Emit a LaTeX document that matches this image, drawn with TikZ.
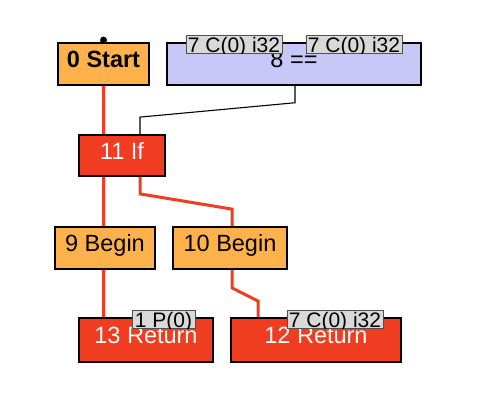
\documentclass[tikz,border=0pt]{standalone}
\usepackage{fontspec}
\setmainfont{Liberation Sans}
\definecolor{orangefill}{HTML}{FFB24C}
\definecolor{redfill}{HTML}{F03C20}
\definecolor{lavfill}{HTML}{C8C8F8}
\definecolor{labfill}{HTML}{D9D9D9}
\definecolor{labdraw}{HTML}{505050}
\begin{document}
\begin{tikzpicture}[x=1pt,y=-1pt,
  box/.style={draw=black,line width=1.8pt,inner sep=0pt,
    font=\fontsize{23.5}{27}\selectfont,text height=19pt,text depth=11.5pt},
  orangebox/.style={box,fill=orangefill,text=black},
  redbox/.style={box,fill=redfill,text=white},
  lavbox/.style={box,fill=lavfill,text=black,line width=1.5pt},
  redge/.style={draw=redfill,line width=3pt},
  bedge/.style={draw=black,line width=1.1pt},
  labbox/.style={draw=labdraw,fill=labfill,line width=1pt},
  labtext/.style={font=\fontsize{21}{24}\selectfont,inner sep=0pt,anchor=base}
]
\useasboundingbox (0,0) rectangle (480,400);
\fill[white] (0,0) rectangle (480,400);

% nodes
\node[orangebox,minimum width=91pt,minimum height=42pt] (start) at (103.5,64) {\bfseries 0 Start};
\node[lavbox,minimum width=254pt,minimum height=42pt] (eq) at (294,64) {8 ==};
\node[redbox,minimum width=86pt,minimum height=41pt] (if) at (122,155.5) {11 If};
\node[orangebox,minimum width=100pt,minimum height=42pt] (b9) at (105,248) {9 Begin};
\node[orangebox,minimum width=114pt,minimum height=42pt] (b10) at (230,248) {10 Begin};
\node[redbox,minimum width=134pt,minimum height=44pt] (r13) at (146,340) {13 Return};
\node[redbox,minimum width=170pt,minimum height=44pt] (r12) at (316,340) {12 Return};

% start dot
\node[circle,fill=black,inner sep=0pt,minimum size=7pt] (dot) at ([yshift=2pt]start.north) {};

% edges
\draw[redge] (start.south) -- (if.north -| start.south);
\draw[redge] (if.south -| start.south) -- (b9.north -| start.south);
\draw[redge] (b9.south -| start.south) -- (r13.north -| start.south);
\draw[redge] ([xshift=18pt]if.south) -- ++(0,17) -- ([xshift=2pt,yshift=17pt]b10.north) -- ([xshift=2pt]b10.north);
\draw[redge] ([xshift=2pt]b10.south) -- ++(0,18) -- ([xshift=-58pt,yshift=16pt]r12.north) -- ([xshift=-58pt]r12.north);
\draw[bedge] ([xshift=1pt]eq.south) -- ++(0,17) -- ([xshift=18pt,yshift=17pt]if.north) -- ([xshift=18pt]if.north);

% labels
\draw[labbox] (186,35) rectangle (282,53);
\begin{scope}\clip (186,35) rectangle (282,53);
\node[labtext] (la) at (234,52) {7 C(0) i32};\end{scope}
\draw[labbox] (306,35) rectangle (402,53);
\begin{scope}\clip (306,35) rectangle (402,53);
\node[labtext] (lb) at (354,52) {7 C(0) i32};\end{scope}
\draw[labbox] (132,310) rectangle (195,328);
\begin{scope}\clip (132,310) rectangle (195,328);
\node[labtext] (lc) at (163.5,327) {1 P(0)};\end{scope}
\draw[labbox] (287,310) rectangle (383,328);
\begin{scope}\clip (287,310) rectangle (383,328);
\node[labtext] (ld) at (335,327) {7 C(0) i32};\end{scope}
\end{tikzpicture}
\end{document}
